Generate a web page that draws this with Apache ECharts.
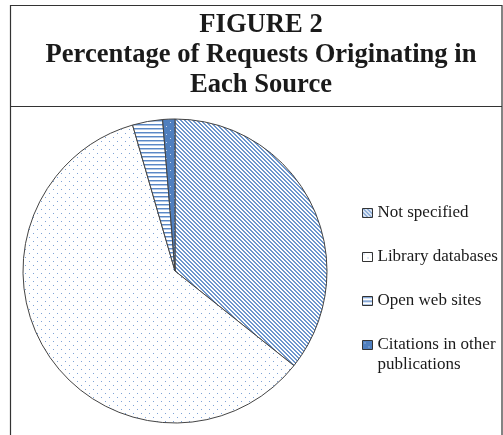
<!DOCTYPE html>
<html><head><meta charset="utf-8">
<script src="https://cdn.jsdelivr.net/npm/echarts@6/dist/echarts.min.js"></script>
<style>html,body{margin:0;padding:0;background:#fff}#c{width:503px;height:435px}</style>
</head><body><div id="c"></div>
<script>
const titleLines = ['FIGURE 2', 'Percentage of Requests Originating in', 'Each Source'];
const categories = ['Not specified', 'Library databases', 'Open web sites', 'Citations in other publications'];
const values = [35.7, 59.8, 3.2, 1.3];

function pattern(kind) {
  const c = document.createElement('canvas');
  const ctx = c.getContext('2d');
  if (kind === 'diag') {
    c.width = 4; c.height = 4;
    ctx.fillStyle = '#fff'; ctx.fillRect(0, 0, 4, 4);
    ctx.fillStyle = '#6d96cd';
    for (let i = 0; i < 4; i++) { ctx.fillRect(i, i, 1, 1); ctx.fillRect((i + 1) % 4, i, 1, 1); }
  } else if (kind === 'dots') {
    c.width = 8; c.height = 8;
    ctx.fillStyle = '#fff'; ctx.fillRect(0, 0, 8, 8);
    ctx.fillStyle = '#7fa3d6';
    ctx.fillRect(1, 1, 1, 1); ctx.fillRect(5, 5, 1, 1);
  } else if (kind === 'horiz') {
    c.width = 4; c.height = 4;
    ctx.fillStyle = '#fff'; ctx.fillRect(0, 0, 4, 4);
    ctx.fillStyle = '#5a88c6'; ctx.fillRect(0, 0, 4, 1);
    ctx.fillStyle = '#b3c9e8'; ctx.fillRect(0, 1, 4, 1);
  } else {
    c.width = 8; c.height = 8;
    ctx.fillStyle = '#4f7fbf'; ctx.fillRect(0, 0, 8, 8);
    ctx.fillStyle = '#c9d8ee';
    ctx.fillRect(2, 2, 1, 1); ctx.fillRect(6, 6, 1, 1);
  }
  return { image: c, repeat: 'repeat' };
}
const fills = [pattern('diag'), pattern('dots'), pattern('horiz'), pattern('solid')];

const chart = echarts.init(document.getElementById('c'), null, { renderer: 'canvas' });
chart.setOption({
  animation: false,
  backgroundColor: '#fff',
  title: {
    text: titleLines.join('\n'),
    left: 256, textAlign: 'center', top: 5,
    textStyle: { fontFamily: 'Liberation Serif', fontWeight: 'bold', fontSize: 26.6, lineHeight: 30, color: '#1a1a1a' }
  },
  graphic: [
    { type: 'rect', shape: { x: 10.5, y: 5.5, width: 491.5, height: 440 }, style: { fill: 'none', stroke: '#333', lineWidth: 1.2 }, silent: true },
    { type: 'line', shape: { x1: 10.5, y1: 106.5, x2: 502, y2: 106.5 }, style: { stroke: '#333', lineWidth: 1.2 }, silent: true }
  ],
  legend: {
    orient: 'vertical', left: 357, top: 178,
    itemWidth: 10, itemHeight: 9, itemGap: -16,
    icon: 'rect',
    itemStyle: { borderColor: '#333', borderWidth: 1 },
    formatter: function (name) {
      // keep the icon level with the first text line: pad lines so that line sits in the middle
      return name === categories[3] ? '\nCitations in other\npublications' : '\n' + name + '\n';
    },
    textStyle: { fontFamily: 'Liberation Serif', fontSize: 17, color: '#1a1a1a', lineHeight: 20 },
    data: categories
  },
  series: [{
    type: 'pie',
    center: [175, 271], radius: 152,
    startAngle: 90, clockwise: true,
    label: { show: false }, labelLine: { show: false },
    emphasis: { disabled: true },
    itemStyle: { borderColor: '#444', borderWidth: 1 },
    data: categories.map((n, i) => ({ name: n, value: values[i], itemStyle: { color: fills[i] } }))
  }]
});
</script></body></html>
